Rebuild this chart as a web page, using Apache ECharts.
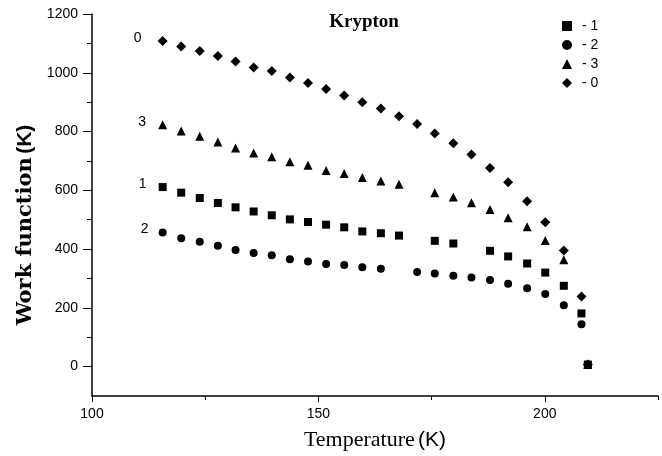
<!DOCTYPE html>
<html><head><meta charset="utf-8">
<script src="https://cdn.jsdelivr.net/npm/echarts@6/dist/echarts.min.js"></script>
<style>html,body{margin:0;padding:0;background:#fff}#c{width:662px;height:456px}</style>
</head><body><div id="c"></div>
<script>
// Temperatures (K) of the measured points
const temperature = [115.6, 119.7, 123.8, 127.8, 131.7, 135.7, 139.7, 143.7, 147.7, 151.7, 155.7, 159.7, 163.8, 167.8, 171.8, 175.7, 179.8, 183.8, 187.9, 191.9, 196.1, 200.1, 204.2, 208.1, 209.5];
// Work function (K) per series; null = no point
const series1 = [611, 592, 574, 557, 542, 528, 515, 501, 492, 483, 474, 460, 454, 446, null, 428, 419, null, 394, 375, 351, 320, 275, 181, 7];
const series2 = [456, 437, 425, 411, 397, 387, 379, 365, 358, 349, 346, 338, 333, null, 322, 317, 309, 303, 295, 282, 267, 247, 209, 144, 7];
const series3 = [823, 802, 784, 764, 744, 727, 714, 697, 685, 667, 657, 644, 632, 621, null, 592, 577, 558, 535, 507, 476, 429, 364, null, 7];
const series0 = [1108, 1089, 1074, 1057, 1038, 1018, 1006, 984, 965, 945, 923, 900, 878, 852, 826, 793, 760, 722, 676, 627, 563, 491, 395, 239, 7];
const seriesNames = ['1', '2', '3', '0'];
const xTickLabels = [100, 150, 200];
const xMinorTicks = [125, 175, 225];
const yTickLabels = [0, 200, 400, 600, 800, 1000, 1200];
const yMinorTicks = [100, 300, 500, 700, 900, 1100];

function pairs(vals) {
  const out = [];
  temperature.forEach((t, i) => {
    if (vals[i] != null) {
      const item = { value: [t, vals[i]] };
      if (out.length === 0) item.label = { show: true };
      out.push(item);
    }
  });
  return out;
}

const symbols = { '1': 'rect', '2': 'circle', '3': 'triangle', '0': 'diamond' };
const sizes = { '1': 8, '2': 8, '3': 9, '0': 10 };
const labelDist = { '1': 12, '2': 10, '3': 12, '0': 16 };
const values = { '1': series1, '2': series2, '3': series3, '0': series0 };

const black = '#000';
const chart = echarts.init(document.getElementById('c'), null, { renderer: 'canvas' });
chart.setOption({
  animation: false,
  backgroundColor: '#fff',
  title: {
    text: 'Krypton', left: 359, top: 8, textAlign: 'center',
    textStyle: { fontFamily: 'Liberation Serif', fontWeight: 'bold', fontSize: 19, color: black }
  },
  legend: {
    orient: 'vertical', left: 557, top: 14, itemWidth: 10, itemHeight: 10, itemGap: 5,
    data: seriesNames,
    formatter: name => '- ' + name,
    itemStyle: { opacity: 1 },
    textStyle: { fontFamily: 'Liberation Sans', fontSize: 14, color: black, lineHeight: 14, padding: [0, 0, 0, 5] }
  },
  grid: { left: 92, right: 4, top: 14, bottom: 59, containLabel: false },
  xAxis: [{
    type: 'value', min: 100, max: 225, position: 'bottom',
    name: '{a|Temperature} {b|(K)}', nameLocation: 'middle', nameGap: 33,
    nameTextStyle: { rich: {
      a: { fontFamily: 'Liberation Serif', fontSize: 22, color: black },
      b: { fontFamily: 'Liberation Sans', fontSize: 21, color: black }
    } },
    axisLine: { onZero: false, lineStyle: { color: black, width: 1.5 } },
    axisTick: { customValues: xTickLabels, length: 6, lineStyle: { color: black, width: 1 } },
    axisLabel: { customValues: xTickLabels, margin: 11, fontFamily: 'Liberation Sans', fontSize: 14, color: black, formatter: v => String(v) },
    splitLine: { show: false }
  }, {
    type: 'value', min: 100, max: 225, position: 'bottom',
    axisLine: { show: false, onZero: false },
    axisTick: { show: true, customValues: xMinorTicks, length: 4, lineStyle: { color: black, width: 1 } },
    axisLabel: { show: false },
    splitLine: { show: false }
  }],
  yAxis: [{
    type: 'value', min: -100, max: 1200, position: 'left',
    name: '{a|Work function} {b|(K)}', nameLocation: 'middle', nameGap: 55,
    nameTextStyle: { padding: [0, 40, 0, 0], rich: {
      a: { fontFamily: 'DejaVu Serif', fontWeight: 'bold', fontSize: 21, color: black },
      b: { fontFamily: 'Liberation Sans', fontWeight: 'bold', fontSize: 21, color: black }
    } },
    axisLine: { show: true, onZero: false, lineStyle: { color: black, width: 1.5 } },
    axisTick: { show: true, customValues: yTickLabels, length: 9, lineStyle: { color: black, width: 1 } },
    axisLabel: { customValues: yTickLabels, margin: 14, fontFamily: 'Liberation Sans', fontSize: 14, color: black, formatter: v => String(v) },
    splitLine: { show: false }
  }, {
    type: 'value', min: -100, max: 1200, position: 'left',
    axisLine: { show: false, onZero: false },
    axisTick: { show: true, customValues: yMinorTicks, length: 5, lineStyle: { color: black, width: 1 } },
    axisLabel: { show: false },
    splitLine: { show: false }
  }],
  series: seriesNames.map(n => ({
    name: n, type: 'scatter', xAxisIndex: 0, yAxisIndex: 0,
    symbol: symbols[n], symbolSize: sizes[n],
    itemStyle: { color: black, opacity: 1 },
    label: { show: false, position: 'left', distance: labelDist[n], formatter: '{a}',
      fontFamily: 'Liberation Sans', fontSize: 14, color: black, offset: [0, -3] },
    data: pairs(values[n])
  }))
});
</script></body></html>
